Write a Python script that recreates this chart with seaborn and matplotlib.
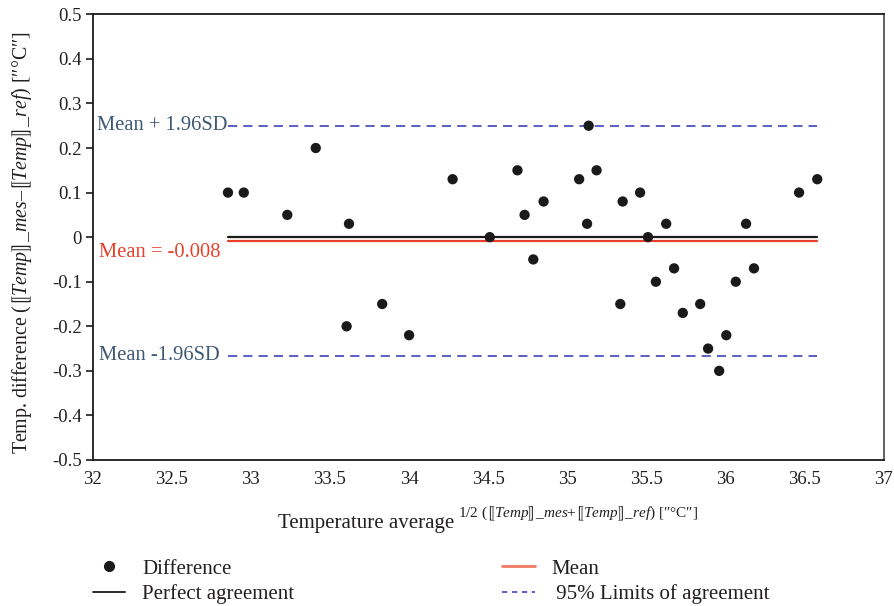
import numpy as np
import pandas as pd
import matplotlib
matplotlib.use("Agg")
import matplotlib.pyplot as plt
from matplotlib.lines import Line2D
import seaborn as sns

# Bland-Altman data: average of the two readings and their difference
avg_temp = [32.855, 32.955, 33.23, 33.41, 33.62, 33.605, 33.83, 34.00, 34.275,
            34.51, 34.685, 34.73, 34.785, 34.85, 35.075, 35.135, 35.185, 35.125,
            35.335, 35.35, 35.46, 35.51, 35.56, 35.625, 35.675, 35.73, 35.84,
            35.89, 35.96, 36.005, 36.065, 36.13, 36.18, 36.465, 36.58]
diff_temp = [0.10, 0.10, 0.05, 0.20, 0.03, -0.20, -0.15, -0.22, 0.13,
             0.00, 0.15, 0.05, -0.05, 0.08, 0.13, 0.25, 0.15, 0.03,
             -0.15, 0.08, 0.10, 0.00, -0.10, 0.03, -0.07, -0.17, -0.15,
             -0.25, -0.30, -0.22, -0.10, 0.03, -0.07, 0.10, 0.13]

mean_diff = -0.008
upper_loa = 0.25
lower_loa = -0.266

x_ticks = [32, 32.5, 33, 33.5, 34, 34.5, 35, 35.5, 36, 36.5, 37]
x_tick_labels = ["32", "32.5", "33", "33.5", "34", "34.5", "35", "35.5", "36", "36.5", "37"]
y_ticks = [0.5, 0.4, 0.3, 0.2, 0.1, 0, -0.1, -0.2, -0.3, -0.4, -0.5]
y_tick_labels = ["0.5", "0.4", "0.3", "0.2", "0.1", "0", "-0.1", "-0.2", "-0.3", "-0.4", "-0.5"]

df = pd.DataFrame({"avg": avg_temp, "diff": diff_temp})

sns.set_theme(style="white")
plt.rcParams["font.family"] = ["Liberation Serif", "DejaVu Serif"]
plt.rcParams["mathtext.fontset"] = "custom"
plt.rcParams["mathtext.rm"] = "Liberation Serif"
plt.rcParams["mathtext.it"] = "Liberation Serif:italic"

TXT = "#231f20"
RED = "#e8402a"
BLUE = "#2f35b0"
SLATE = "#3d5873"

fig = plt.figure(figsize=(8.94, 6.06), dpi=100)
ax = fig.add_axes([92.7 / 894, 1 - 460 / 606, (883.7 - 92.7) / 894, (460 - 14.3) / 606])

xmin, xmax = min(avg_temp), max(avg_temp)

# reference lines spanning the measured range
ax.plot([xmin, xmax], [upper_loa, upper_loa], color=BLUE, lw=1.1, ls=(0, (6, 4)), zorder=1)
ax.plot([xmin, xmax], [lower_loa, lower_loa], color=BLUE, lw=1.1, ls=(0, (6, 4)), zorder=1)
ax.plot([xmin, xmax], [0, 0], color="#1a1a1a", lw=1.6, zorder=2)
ax.plot([xmin, xmax], [mean_diff, mean_diff], color=RED, lw=1.6, zorder=2)

sns.scatterplot(data=df, x="avg", y="diff", ax=ax, color="#1a1a1a", s=55,
                edgecolor="none", linewidth=0, zorder=3, legend=False)

ax.set_xlim(32, 37)
ax.set_ylim(-0.5, 0.5)
ax.set_xticks(x_ticks)
ax.set_xticklabels(x_tick_labels)
ax.set_yticks(y_ticks)
ax.set_yticklabels(y_tick_labels)
ax.tick_params(axis="x", length=0, pad=8, labelsize=13.5, labelcolor=TXT)
ax.tick_params(axis="y", length=5, width=1.2, pad=3, labelsize=13.5, labelcolor=TXT,
               color="#1a1a1a", left=True)
for s in ax.spines.values():
    s.set_color("#1a1a1a")
    s.set_linewidth(1.3)
ax.spines["right"].set_color("#555555")
ax.set_xlabel("")
ax.set_ylabel("")

# line labels
ax.text(xmin - 0.005, upper_loa, "Mean + 1.96SD", color=SLATE, fontsize=14.8,
        ha="right", va="center")
ax.text(xmin - 0.05, lower_loa, "Mean -1.96SD", color=SLATE, fontsize=14.8,
        ha="right", va="center")
ax.text(xmin - 0.05, mean_diff - 0.006, "Mean = -0.008", color=RED, fontsize=14.8,
        ha="right", va="top")

# axis titles
ylab = (r"Temp. difference ($⟦\mathit{Temp}⟧\mathit{\_mes}$"
        r"–$⟦\mathit{Temp}⟧\mathit{\_ref}$) [″°C″]")
fig.text(22 / 894, 1 - 243 / 606, ylab, rotation=90, ha="center", va="center",
         fontsize=14.3, color=TXT)
fig.text(278 / 894, 1 - 528 / 606, "Temperature average", ha="left",
         va="baseline", fontsize=15, color=TXT)
xsup = r"1/2 ($⟦\mathit{Temp}⟧\mathit{\_mes}$+$⟦\mathit{Temp}⟧\mathit{\_ref}$) [″°C″]"
fig.text(458 / 894, 1 - 517 / 606, xsup, ha="left", va="baseline",
         fontsize=11, color=TXT)

handles = [
    Line2D([], [], ls="none", marker="o", color="#1a1a1a", markersize=7),
    Line2D([], [], color="#1a1a1a", lw=1.3),
    Line2D([], [], color="#f07a64", lw=2),
    Line2D([], [], color=BLUE, lw=1.1, ls=(0, (3.5, 3))),
]
labels = ["Difference", "Perfect agreement", "Mean", " 95% Limits of agreement"]
fig.legend(handles, labels, ncol=2, loc="upper left",
           bbox_to_anchor=(93 / 894, 1 - 559 / 606), frameon=False,
           fontsize=15, labelcolor=TXT, handlelength=1.55, handletextpad=0.8,
           columnspacing=10.0, labelspacing=0.28, borderaxespad=0, borderpad=0)

fig.savefig("out.png", dpi=100, facecolor="white")
